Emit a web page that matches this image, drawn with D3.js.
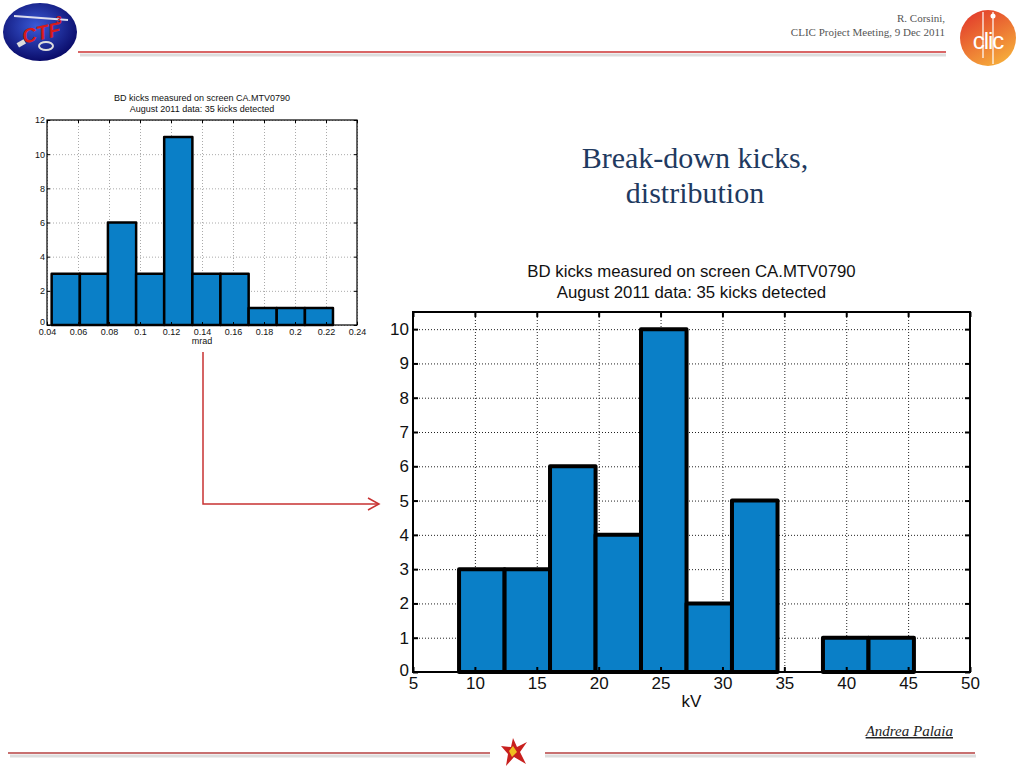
<!DOCTYPE html>
<html>
<head>
<meta charset="utf-8">
<script src="https://cdn.jsdelivr.net/npm/d3@7/dist/d3.min.js"></script>
<style>
  html, body { margin: 0; padding: 0; background: #ffffff; }
  svg { display: block; }
</style>
</head>
<body>
<svg id="slide" width="1024" height="768"></svg>
<script>
// ---------- data ----------
const smallTitle = ["BD kicks measured on screen CA.MTV0790", "August 2011 data: 35 kicks detected"];
const smallEdges = [0.043, 0.0612, 0.0793, 0.0975, 0.1156, 0.1338, 0.1519, 0.1701, 0.1882, 0.2064, 0.2245];
const smallCounts = [3, 3, 6, 3, 11, 3, 3, 1, 1, 1];
const smallXTicks = [0.04, 0.06, 0.08, 0.1, 0.12, 0.14, 0.16, 0.18, 0.2, 0.22, 0.24];
const smallYTicks = [0, 2, 4, 6, 8, 10, 12];
const smallXLabel = "mrad";

const bigTitle = ["BD kicks measured on screen CA.MTV0790", "August 2011 data: 35 kicks detected"];
const bigEdges = [8.72, 12.4, 16.07, 19.75, 23.42, 27.1, 30.77, 34.45, 38.12, 41.8, 45.47];
const bigCounts = [3, 3, 6, 4, 10, 2, 5, 0, 1, 1];
const bigXTicks = [5, 10, 15, 20, 25, 30, 35, 40, 45, 50];
const bigYTicks = [0, 1, 2, 3, 4, 5, 6, 7, 8, 9, 10];
const bigXLabel = "kV";

const slideTitle = ["Break-down kicks,", "distribution"];
const headerText = ["R. Corsini,", "CLIC Project Meeting, 9 Dec 2011"];
const footerText = "Andrea Palaia";

// ---------- drawing ----------
const svg = d3.select("#slide");
const defs = svg.append("defs");
const barColor = "#0a7fc7";
const sans = "'Liberation Sans', Arial, Helvetica, sans-serif";
const serif = "'Liberation Serif', 'DejaVu Serif', serif";

function histogram(opts) {
  const g = svg.append("g");
  const x = d3.scaleLinear().domain(opts.xDomain).range([opts.left, opts.right]);
  const y = d3.scaleLinear().domain(opts.yDomain).range([opts.bottom, opts.top]);
  const w = opts.right - opts.left, h = opts.bottom - opts.top;

  g.append("rect").attr("x", opts.left).attr("y", opts.top).attr("width", w).attr("height", h).attr("fill", "#fff");

  // grid
  const gridX = g.append("g").attr("transform", `translate(0,${opts.bottom})`)
    .call(d3.axisBottom(x).tickValues(opts.xTicks).tickSize(-h).tickFormat(""));
  const gridY = g.append("g").attr("transform", `translate(${opts.left},0)`)
    .call(d3.axisLeft(y).tickValues(opts.yTicks).tickSize(-w).tickFormat(""));
  [gridX, gridY].forEach(gg => {
    gg.select(".domain").remove();
    gg.selectAll("line").attr("stroke", opts.gridColor).attr("stroke-width", 1).attr("stroke-dasharray", "1,2");
  });

  // bars
  const bins = opts.counts.map((c, i) => ({ x0: opts.edges[i], x1: opts.edges[i + 1], c }));
  g.selectAll("rect.bar").data(bins).join("rect").attr("class", "bar")
    .attr("x", d => x(d.x0)).attr("width", d => x(d.x1) - x(d.x0))
    .attr("y", d => y(d.c)).attr("height", d => y(0) - y(d.c))
    .attr("fill", barColor).attr("stroke", "#000").attr("stroke-width", opts.barStroke)
    .attr("stroke-linejoin", "round");

  // axes with inward ticks
  const ax = g.append("g").attr("transform", `translate(0,${opts.bottom})`)
    .call(d3.axisBottom(x).tickValues(opts.xTicks).tickSizeInner(-opts.tickLen).tickSizeOuter(0).tickPadding(opts.xPad).tickFormat(d => d3.format("")(d)));
  const axTop = g.append("g").attr("transform", `translate(0,${opts.top})`)
    .call(d3.axisTop(x).tickValues(opts.xTicks).tickSizeInner(-opts.tickLen).tickSizeOuter(0).tickFormat(""));
  const ay = g.append("g").attr("transform", `translate(${opts.left},0)`)
    .call(d3.axisLeft(y).tickValues(opts.yTicks).tickSizeInner(-opts.tickLen).tickSizeOuter(0).tickPadding(opts.yPad));
  const ayR = g.append("g").attr("transform", `translate(${opts.right},0)`)
    .call(d3.axisRight(y).tickValues(opts.yTicks).tickSizeInner(-opts.tickLen).tickSizeOuter(0).tickFormat(""));
  [ax, axTop, ay, ayR].forEach(gg => {
    gg.select(".domain").remove();
    gg.selectAll("line").attr("stroke", "#000").attr("stroke-width", opts.tickWidth);
    gg.selectAll("text").attr("font-family", sans).attr("font-size", opts.tickFont).attr("fill", "#111");
  });
  // MATLAB places the zero y label slightly above the corner
  ay.selectAll(".tick").filter(d => d === 0).select("text").attr("dy", opts.zeroDy);

  // box
  g.append("rect").attr("x", opts.left).attr("y", opts.top).attr("width", w).attr("height", h)
    .attr("fill", "none").attr("stroke", "#000").attr("stroke-width", opts.boxWidth);

  // titles
  opts.title.forEach((t, i) => {
    g.append("text").attr("x", (opts.left + opts.right) / 2).attr("y", opts.titleY + i * opts.titleGap)
      .attr("text-anchor", "middle").attr("font-family", sans).attr("font-size", opts.titleFont)
      .attr("fill", "#111").text(t);
  });
  g.append("text").attr("x", (opts.left + opts.right) / 2).attr("y", opts.xLabelY)
    .attr("text-anchor", "middle").attr("font-family", sans).attr("font-size", opts.labelFont)
    .attr("fill", "#111").text(opts.xLabel);
}

// small chart
histogram({
  left: 47, right: 357, top: 120, bottom: 325,
  xDomain: [0.04, 0.24], yDomain: [0, 12],
  xTicks: smallXTicks, yTicks: smallYTicks,
  edges: smallEdges, counts: smallCounts,
  gridColor: "#aaa", barStroke: 2.5, tickLen: 3, tickWidth: 1, boxWidth: 1.2,
  tickFont: "9px", xPad: 4, yPad: 2, zeroDy: "-0.1em",
  title: smallTitle, titleY: 101, titleGap: 11, titleFont: "9px",
  xLabel: smallXLabel, xLabelY: 344, labelFont: "9px"
});

// big chart
histogram({
  left: 413, right: 970, top: 312, bottom: 672,
  xDomain: [5, 50], yDomain: [0, 10.5],
  xTicks: bigXTicks, yTicks: bigYTicks,
  edges: bigEdges, counts: bigCounts,
  gridColor: "#222", barStroke: 4, tickLen: 5, tickWidth: 2, boxWidth: 2,
  tickFont: "17px", xPad: 5, yPad: 4, zeroDy: "0.2em",
  title: bigTitle, titleY: 277, titleGap: 21, titleFont: "16.8px",
  xLabel: bigXLabel, xLabelY: 707, labelFont: "17px"
});

// ---------- slide decoration ----------
svg.append("line").attr("x1", 80).attr("x2", 946).attr("y1", 55).attr("y2", 55).attr("stroke", "#ddd").attr("stroke-width", 3);
svg.append("line").attr("x1", 78).attr("x2", 946).attr("y1", 52).attr("y2", 52).attr("stroke", "#cc3333").attr("stroke-width", 1.5);

headerText.forEach((t, i) => {
  svg.append("text").attr("x", 945).attr("y", 22 + i * 14).attr("text-anchor", "end")
    .attr("font-family", serif).attr("font-size", "11px").attr("fill", "#555").text(t);
});

// CTF3 logo
const gCtf = defs.append("radialGradient").attr("id", "ctfg").attr("cx", "45%").attr("cy", "40%").attr("r", "60%");
gCtf.append("stop").attr("offset", "0%").attr("stop-color", "#3a5ad8");
gCtf.append("stop").attr("offset", "100%").attr("stop-color", "#0a0c6a");
svg.append("ellipse").attr("cx", 40).attr("cy", 32).attr("rx", 37).attr("ry", 29).attr("fill", "url(#ctfg)");
svg.append("line").attr("x1", 14).attr("y1", 16).attr("x2", 68).attr("y2", 20).attr("stroke", "#dde").attr("stroke-width", 2);
svg.append("text").attr("x", 22).attr("y", 40).attr("font-family", sans).attr("font-weight", "bold").attr("font-style", "italic")
  .attr("font-size", "20px").attr("fill", "#d61b1b").attr("transform", "rotate(-12,40,34)").text("CTF");
svg.append("text").attr("x", 56).attr("y", 24).attr("font-family", sans).attr("font-weight", "bold")
  .attr("font-size", "10px").attr("fill", "#d61b1b").text("3");
svg.append("ellipse").attr("cx", 46).attr("cy", 46).attr("rx", 7).attr("ry", 4).attr("fill", "none").attr("stroke", "#ddd").attr("stroke-width", 2);
svg.append("rect").attr("x", 17).attr("y", 41).attr("width", 8).attr("height", 5).attr("fill", "#ddd").attr("transform", "rotate(-30,21,43)");

// CLIC logo
const gClic = defs.append("linearGradient").attr("id", "clicg").attr("x1", "0").attr("y1", "0").attr("x2", "0.6").attr("y2", "1");
gClic.append("stop").attr("offset", "0%").attr("stop-color", "#e0302a");
gClic.append("stop").attr("offset", "100%").attr("stop-color", "#f5a83a");
svg.append("circle").attr("cx", 988).attr("cy", 38).attr("r", 28).attr("fill", "url(#clicg)");
svg.append("text").attr("x", 988).attr("y", 49).attr("text-anchor", "middle").attr("font-family", sans)
  .attr("font-size", "24px").attr("fill", "#fff").attr("letter-spacing", "-1px").text("clic");
svg.append("line").attr("x1", 983).attr("x2", 983).attr("y1", 12).attr("y2", 58).attr("stroke", "#fff").attr("stroke-width", 1.2);
svg.append("line").attr("x1", 993).attr("x2", 993).attr("y1", 12).attr("y2", 64).attr("stroke", "#fff").attr("stroke-width", 1.2);
svg.append("circle").attr("cx", 993).attr("cy", 16).attr("r", 2.5).attr("fill", "#fff");

// slide title
slideTitle.forEach((t, i) => {
  svg.append("text").attr("x", 695).attr("y", 168 + i * 35).attr("text-anchor", "middle")
    .attr("font-family", serif).attr("font-size", "30px").attr("fill", "#1f3a60").text(t);
});

// connecting arrow
svg.append("path").attr("d", "M203,352 L203,504 L378,504").attr("fill", "none").attr("stroke", "#c83232").attr("stroke-width", 1.5);
svg.append("path").attr("d", "M368,498 L379,504 L368,510").attr("fill", "none").attr("stroke", "#c83232").attr("stroke-width", 1.5);

// footer
svg.append("text").attr("x", 953).attr("y", 736).attr("text-anchor", "end").attr("font-family", serif)
  .attr("font-style", "italic").attr("font-size", "15px").attr("fill", "#222")
  .attr("text-decoration", "underline").text(footerText);
svg.append("line").attr("x1", 10).attr("x2", 490).attr("y1", 756).attr("y2", 756).attr("stroke", "#ddd").attr("stroke-width", 3);
svg.append("line").attr("x1", 545).attr("x2", 976).attr("y1", 756).attr("y2", 756).attr("stroke", "#ddd").attr("stroke-width", 3);
svg.append("line").attr("x1", 8).attr("x2", 490).attr("y1", 753).attr("y2", 753).attr("stroke", "#c87070").attr("stroke-width", 2);
svg.append("line").attr("x1", 545).attr("x2", 975).attr("y1", 753).attr("y2", 753).attr("stroke", "#c87070").attr("stroke-width", 2);
const starPts = [[513,738],[517,747],[527,742],[520,752],[526,764],[514,757],[506,766],[508,754],[501,746],[511,747]];
svg.append("polygon").attr("points", starPts.map(p => p.join(",")).join(" ")).attr("fill", "#c8201e");
svg.append("polygon").attr("points", "513,746 517,752 512,757 509,751").attr("fill", "#f0c020");
</script>
</body>
</html>
